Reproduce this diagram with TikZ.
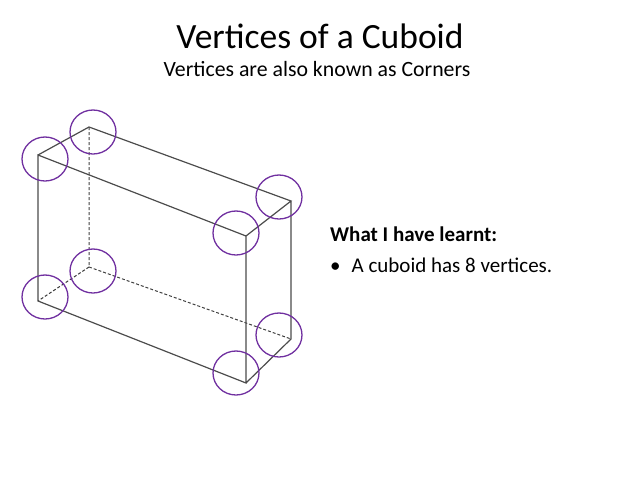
\documentclass[tikz,border=0pt]{standalone}
\usepackage{fontspec}
\setmainfont{Carlito}
\definecolor{ringc}{RGB}{112,48,160}
\begin{document}
\begin{tikzpicture}[x=1pt,y=-1pt,
  edge/.style={draw=black!70,line width=1.2pt},
  hid/.style={draw=black!75,line width=1pt,dash pattern=on 3pt off 2pt},
  ring/.style={draw=ringc,line width=1.3pt}]
\useasboundingbox (0,0) rectangle (638,479);
\node[font=\fontsize{35.5}{40}\selectfont] (title) at (320,36) {Vertices of a Cuboid};
\node[font=\fontsize{21.8}{26}\selectfont] (sub) at (317,69) {Vertices are also known as Corners};
\coordinate (a) at (38,155); \coordinate (b) at (246,236);
\coordinate (c) at (38,301); \coordinate (d) at (246,383);
\coordinate (e) at (89,127); \coordinate (f) at (291,201);
\coordinate (g) at (89,267); \coordinate (h) at (291,339);
\draw[hid] (e)--(g) (g)--(c) (g)--(h);
\draw[edge] (a)--(b)--(d)--(c)--cycle (a)--(e)--(f)--(b) (f)--(h)--(d);
\foreach \p in {(45,159),(93,132),(279,197),(236,233),(93,271),(45,297),(279,335),(236,373)}
  \draw[ring] \p ellipse (23 and 22);
\node[anchor=west,inner sep=0pt,font=\fontsize{21}{24}\selectfont\bfseries] (h1) at (330,234) {What I have learnt:};
\node[anchor=west,inner sep=0pt,font=\fontsize{21}{24}\selectfont] (b1) at (330,265) {•\hspace{11pt}A cuboid has 8 vertices.};
\end{tikzpicture}
\end{document}
